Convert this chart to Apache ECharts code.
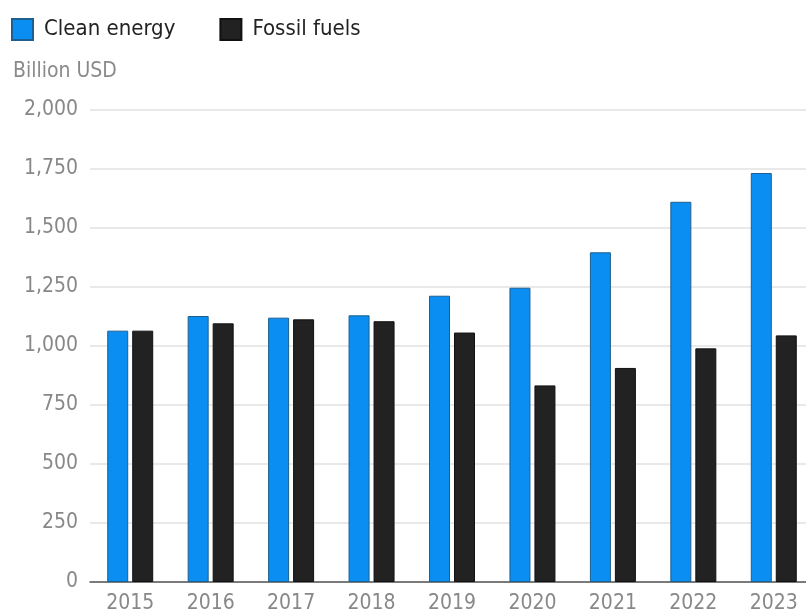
<!DOCTYPE html>
<html>
<head>
<meta charset="utf-8">
<script src="https://cdn.jsdelivr.net/npm/echarts@6/dist/echarts.min.js"></script>
<style>html,body{margin:0;padding:0;background:#fff;overflow:hidden;width:806px;height:614px;}#c{width:814px;height:614px;}</style>
</head>
<body>
<div id="c"></div>
<script>
var years = ['2015','2016','2017','2018','2019','2020','2021','2022','2023'];
var cleanEnergy = [1065, 1127, 1120, 1130, 1213, 1247, 1397, 1611, 1733];
var fossilFuels = [1065, 1096, 1113, 1105, 1057, 833, 907, 990, 1045];
var yTicks = [0, 250, 500, 750, 1000, 1250, 1500, 1750, 2000];

var FONT = '"DejaVu Sans Condensed", "Roboto", sans-serif';
var chart = echarts.init(document.getElementById('c'));
chart.setOption({
  animation: false,
  title: {
    text: 'Billion USD', left: 8, top: 56,
    textStyle: { color: '#8a8a8a', fontSize: 21, fontWeight: 'normal', fontFamily: FONT }
  },
  legend: {
    left: 6, top: 13, itemWidth: 21, itemHeight: 21, itemGap: 44, icon: 'rect',
    textStyle: { color: '#222', fontSize: 22, fontFamily: FONT, padding: [0, 0, 0, 6] },
    data: ['Clean energy', 'Fossil fuels']
  },
  grid: { left: 90, right: 0, top: 110, bottom: 32, containLabel: false },
  xAxis: {
    type: 'category', data: years,
    axisLine: { lineStyle: { color: '#555', width: 1.5 } },
    axisTick: { show: false },
    axisLabel: { color: '#888', fontSize: 21, fontFamily: FONT, margin: 11 }
  },
  yAxis: {
    type: 'value', min: yTicks[0], max: yTicks[yTicks.length - 1], interval: 250,
    axisLine: { show: false }, axisTick: { show: false },
    axisLabel: {
      color: '#888', fontSize: 21, fontFamily: FONT, margin: 12,
      formatter: function (v) { return v.toLocaleString('en-US'); }
    },
    splitLine: { lineStyle: { color: '#e2e2e2', width: 1.5 } }
  },
  series: [
    {
      name: 'Clean energy', type: 'bar', data: cleanEnergy, barWidth: 21, barGap: '19%',
      itemStyle: { color: '#0a8ef2', borderColor: '#1d5f8f', borderWidth: 1 }
    },
    {
      name: 'Fossil fuels', type: 'bar', data: fossilFuels, barWidth: 21,
      itemStyle: { color: '#222222', borderColor: '#111', borderWidth: 1 }
    }
  ]
});
</script>
</body>
</html>
